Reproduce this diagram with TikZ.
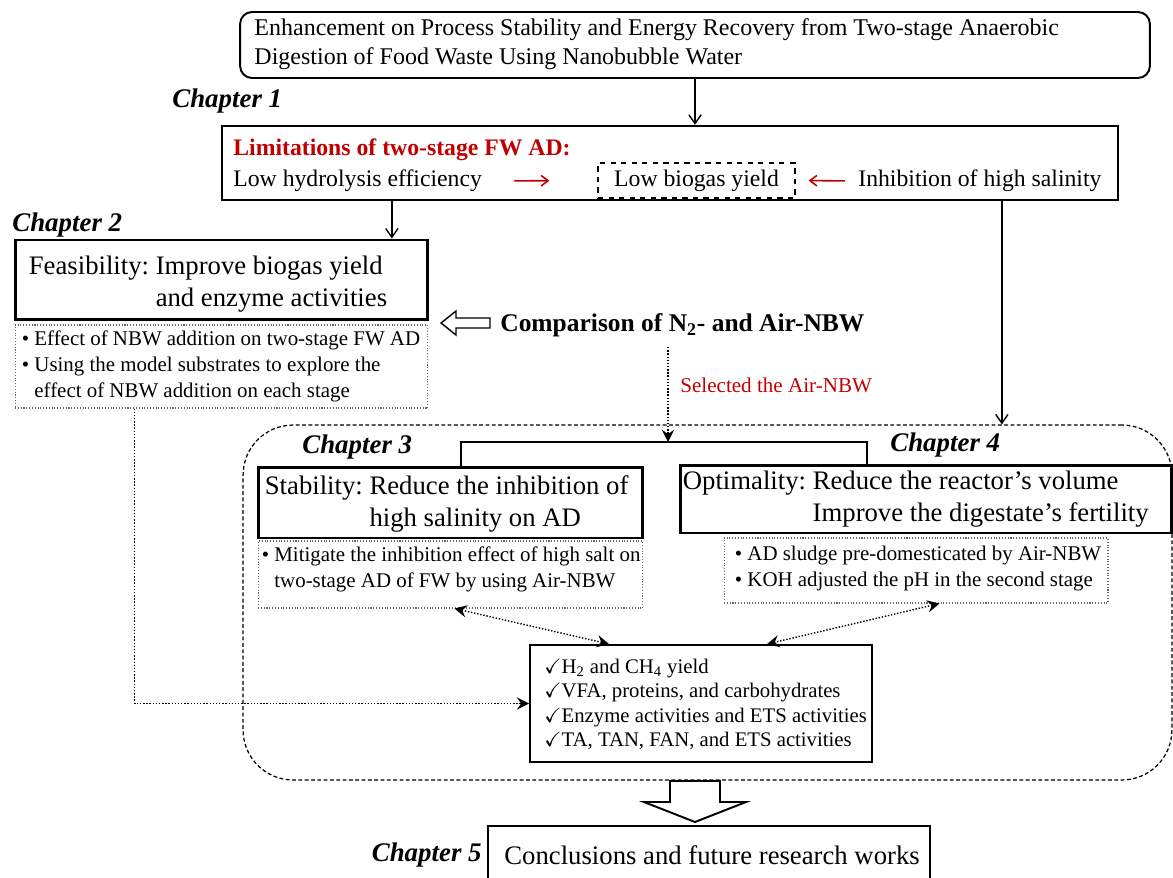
\documentclass[tikz,border=0pt]{standalone}
\usepackage{amssymb}
\usepackage{fontspec}
\setmainfont{Liberation Serif}
\frenchspacing
\usetikzlibrary{calc,arrows.meta,positioning}
\definecolor{darkred}{RGB}{192,0,0}

\begin{document}
\begin{tikzpicture}[x=0.02cm,y=-0.02cm]
  \useasboundingbox (0,0) rectangle (1173,878);
  %% styles
  \tikzstyle{every node}=[inner sep=0pt, font=\fontsize{13.5}{16.5}\selectfont]
  \tikzstyle{box}=[draw, line width=1.1pt]
  \tikzstyle{bigbox}=[draw, line width=1.7pt]
  \tikzstyle{note}=[draw=black!60, densely dotted, line width=0.6pt]
  \tikzstyle{txt}=[anchor=west, align=left, font=\fontsize{13.65}{16.5}\selectfont]
  \tikzstyle{bigtxt}=[anchor=west, align=left, font=\fontsize{15.2}{18.2}\selectfont]
  \tikzstyle{notetxt}=[anchor=west, align=left, font=\fontsize{11.9}{14.7}\selectfont]
  \tikzstyle{chap}=[font=\fontsize{15.3}{18}\bfseries\itshape\selectfont]
  \tikzstyle{link}=[-{Straight Barb[length=5pt,width=7pt]}, line width=0.8pt]
  \tikzstyle{redlink}=[-{Straight Barb[length=4pt,width=6pt]}, darkred, line width=0.9pt]
  \tikzstyle{dotlink}=[densely dotted, line width=0.8pt, -{Stealth[length=7pt,width=7pt,inset=2.5pt]}]
  \tikzstyle{twolink}=[densely dotted, line width=0.8pt, {Stealth[length=7pt,width=7pt,inset=2.5pt]}-{Stealth[length=7pt,width=7pt,inset=2.5pt]}]

  % thesis title
  \node[draw, rounded corners=0.24cm, line width=1.1pt, minimum width=18.2cm, minimum height=1.32cm] (title) at (695,45) {};
  \node[txt] (titleT) at ($(title.west)+(15,-1)$)
  {Enhancement on Process Stability and Energy Recovery from Two-stage Anaerobic\\
   Digestion of Food Waste Using Nanobubble Water};

  % chapter 1
  \node[chap, anchor=west] (ch1) at (172,101) {Chapter 1};
  \node[box, line width=1.4pt, minimum width=17.92cm, minimum height=1.48cm] (lim) at (670,163) {};
  \node[anchor=west, text=darkred, font=\fontsize{13.5}{16.5}\bfseries\selectfont] (limT) at (233,150)
  {Limitations of two-stage FW AD:};
  \node[anchor=west] (hyd) at (233,181) {Low hydrolysis efficiency};
  \node[draw, dashed, line width=0.7pt, minimum width=3.94cm, minimum height=0.7cm] (gas) at (696.5,180.5)
  {Low biogas yield};
  \node[anchor=west] (sal) at (858,181) {Inhibition of high salinity};
  \draw[redlink, shorten <=0.64cm, shorten >=0.96cm] (hyd.east) -- (gas.west);
  \draw[redlink, shorten <=0.26cm, shorten >=0.26cm] (sal.west) -- (gas.east);
  \draw[link] (title.south) -- (title.south |- lim.north);

  % big dashed frame round chapters 3 and 4
  \node[draw, dashed, line width=0.7pt, dash pattern=on 2.2pt off 1.4pt, rounded corners=1cm,
    minimum width=18.58cm, minimum height=7.1cm] (region) at (707.5,602.5) {};

  % chapter 2
  \node[chap, anchor=west] (ch2) at (12,225) {Chapter 2};
  \node[bigbox, minimum width=8.26cm, minimum height=1.6cm] (feas) at (221.5,280) {};
  \node[bigtxt] (feasT) at ($(feas.west)+(15,4)$)
  {Feasibility: Improve biogas yield\\ \hphantom{Feasibility: }and enzyme activities};
  \node[note, minimum width=8.26cm, minimum height=1.66cm] (fn) at (221.5,366.5) {};
  \node[notetxt] (fnT) at ($(fn.west)+(7,0)$)
  {\textbullet{} Effect of NBW addition on two-stage FW AD\\
   \textbullet{} Using the model substrates to explore the\\
   \hphantom{\textbullet{} }effect of NBW addition on each stage};
  \draw[link] ($(lim.south west)+(171,0)$) coordinate (k1) -- (k1 |- feas.north);
  \draw[link] ($(lim.south west)+(781,0)$) coordinate (k2) -- (k2 |- region.north);

  % comparison of the two NBW
  \node[anchor=west, font=\fontsize{14.5}{17}\bfseries\selectfont] (cmp) at (500,325)
  {Comparison of N\textsubscript{2}- and Air-NBW};
  \draw[line width=0.8pt] (490,318) -- (456,318) -- (456,311) -- (441,323) -- (456,335) -- (456,328) -- (490,328) -- cycle;
  \node[anchor=west, text=darkred, font=\fontsize{12}{14}\selectfont] (sel) at (680,385) {Selected the Air-NBW};
  \coordinate (brk) at (668,442);
  \draw[dotlink, shorten <=0.2cm] (cmp.south -| brk) -- (brk);

  % chapters 3 and 4
  \node[chap, anchor=west] (ch3) at (302,447) {Chapter 3};
  \node[chap, anchor=west] (ch4) at (890,445) {Chapter 4};
  \node[bigbox, minimum width=7.7cm, minimum height=1.42cm] (stab) at (450.5,502.5) {};
  \node[bigtxt] (stabT) at ($(stab.west)+(8,1)$)
  {Stability: Reduce the inhibition of\\ \hphantom{Stability: }high salinity on AD};
  \node[note, minimum width=7.7cm, minimum height=1.34cm] (sn) at (450.5,574.5) {};
  \node[notetxt] (snT) at ($(sn.west)+(4,-5)$)
  {\textbullet{} Mitigate the inhibition effect of high salt on\\
   \hphantom{\textbullet{} }two-stage AD of FW by using Air-NBW};
  \node[bigbox, minimum width=9.84cm, minimum height=1.36cm] (opt) at (926,499) {};
  \node[bigtxt] (optT) at ($(opt.west)+(4,0)$)
  {Optimality: Reduce the reactor’s volume\\ \hphantom{Optimality: }Improve the digestate’s fertility};
  \node[note, minimum width=7.68cm, minimum height=1.3cm] (on) at (916,570.5) {};
  \node[notetxt] (onT) at ($(on.west)+(11,-2)$)
  {\textbullet{} AD sludge pre-domesticated by Air-NBW\\
   \textbullet{} KOH adjusted the pH in the second stage};
  \draw[line width=1.1pt] ($(stab.north west)+(204,0)$) |- (brk) -| ($(opt.north west)+(188,0)$);

  % measured indicators
  \node[box, minimum width=6.84cm, minimum height=2.34cm] (res) at (701,703.5) {};
  \node[notetxt, font=\fontsize{11.8}{14}\selectfont] (resT) at ($(res.west)+(15,1)$)
  {$\checkmark$H\textsubscript{2} and CH\textsubscript{4} yield\\
   $\checkmark$VFA, proteins, and carbohydrates\\
   $\checkmark$Enzyme activities and ETS activities\\
   $\checkmark$TA, TAN, FAN, and ETS activities};
  \draw[twolink] ($(sn.south west)+(197,0)$) -- ($(res.north west)+(80,0)$);
  \draw[twolink] ($(on.south west)+(216,0)$) -- ($(res.north west)+(238,0)$);
  \draw[dotlink] ($(fn.south west)+(120,0)$) |- (res.west);

  % chapter 5
  \draw[line width=1.1pt, fill=white] (670,781) -- (670,802) -- (644,802) -- (695,822) -- (746,802) -- (720,802) -- (720,781) -- cycle;
  \node[box, minimum width=8.84cm, minimum height=1.16cm] (conc) at (709,855) {};
  \node[bigtxt] (concT) at ($(conc.west)+(17,0)$) {Conclusions and future research works};
  \node[chap, anchor=east] (ch5) at (482,855) {Chapter 5};
\end{tikzpicture}
\end{document}
